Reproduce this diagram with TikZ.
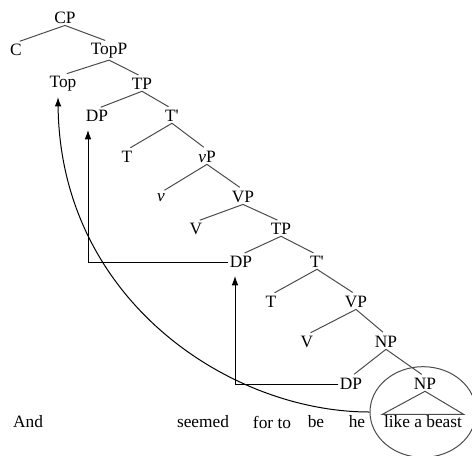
\documentclass[tikz,border=0pt]{standalone}
\usepackage{fontspec}
\setmainfont{Liberation Serif}
\usepackage{tikz}
\usetikzlibrary{positioning}
\usetikzlibrary{calc}
\usetikzlibrary{arrows.meta}
\usetikzlibrary{shapes.geometric}

\tikzset{
  lbl/.style={inner sep=1pt, font=\fontsize{13}{15}\selectfont},
  branch/.style={draw=black!70, line width=.75pt, shorten >=3pt},
  move/.style={draw=black, line width=.75pt, -{Latex[length=7pt,width=5pt]}}
}

\begin{document}
\begin{tikzpicture}[x=.75pt,y=-.75pt]
  \useasboundingbox (0,0) rectangle (472,455);
  \node[lbl](cp) at (65,18) {CP};
  \node[lbl](c) at (16,50) {C};
  \node[lbl](topp) at (109,51) {TopP};
  \node[lbl](top) at (63,84) {Top};
  \node[lbl](tp_a) at (142,84) {TP};
  \node[lbl](dp_a) at (97,116) {DP};
  \node[lbl](tbar_a) at (172,116) {T\textquotesingle};
  \node[lbl](t_a) at (127,157) {T};
  \node[lbl](vp) at (207,157) {\textit{v}P};
  \node[lbl](v) at (161,198) {\textit{v}};
  \node[lbl](vp_a) at (243,197) {VP};
  \node[lbl](v_a) at (196,229) {V};
  \node[lbl](tp_b) at (281,229) {TP};
  \node[lbl](dp_b) at (241,262) {DP};
  \node[lbl](tbar_b) at (317,262) {T\textquotesingle};
  \node[lbl](t_b) at (271,302) {T};
  \node[lbl](vp_b) at (356,302) {VP};
  \node[lbl](v_b) at (307,342) {V};
  \node[lbl](np) at (386,342) {NP};
  \node[lbl](dp_c) at (351,384) {DP};
  \node[lbl](np_b) at (425,384) {NP};

  % words
  \node[lbl](and) at (28,422) {And};
  \node[lbl](seemed) at (203,422) {seemed};
  \node[lbl](forto) at (272,422) {for to};
  \node[lbl](be) at (316,422) {be};
  \node[lbl](he) at (357,422) {he};
  \node[lbl](beast) at (423,422) {like a beast};
  \node[draw=black!70, line width=.75pt, ellipse, minimum width=79.5pt, minimum height=68pt](circ) at (423,412) {};

  \foreach \p/\q in {cp/c, cp/topp, topp/top, topp/tp_a, tp_a/dp_a, tp_a/tbar_a,
    tbar_a/t_a, tbar_a/vp, vp/v, vp/vp_a, vp_a/v_a, vp_a/tp_b, tp_b/dp_b, tp_b/tbar_b,
    tbar_b/t_b, tbar_b/vp_b, vp_b/v_b, vp_b/np, np/dp_c, np/np_b}
    \draw[branch] (\p.south) -- (\q.north);
  \draw[draw=black!70, line width=.75pt] (beast.north west) -- (np_b.south) -- (beast.north east) -- cycle;

  \draw[move, shorten >=5pt] (dp_b.west) -| ([xshift=-6.75pt]dp_a.south);
  \draw[move, shorten >=5pt] (dp_c.west) -| ([xshift=-4.5pt]dp_b.south);
  \draw[move] (circ.west) .. controls (230,412) and (60,300) .. ([xshift=-3.75pt,yshift=-3pt]top.south);
\end{tikzpicture}
\end{document}
